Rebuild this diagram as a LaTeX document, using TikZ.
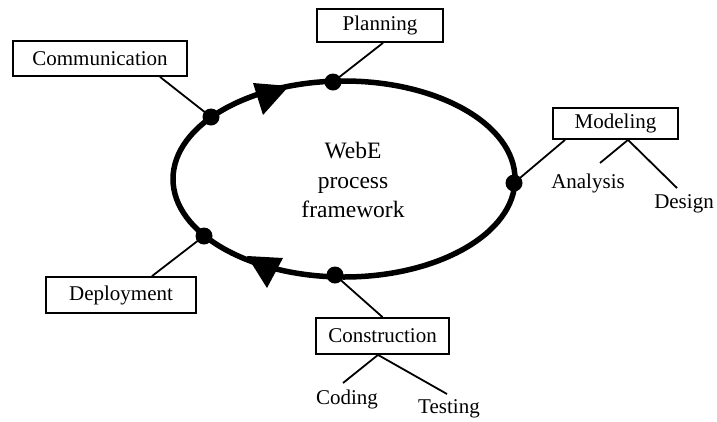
\documentclass[tikz,border=0pt]{standalone}
\usepackage{fontspec}
\setmainfont{Liberation Serif}
\begin{document}
\begin{tikzpicture}[x=1pt,y=-1pt,
  box/.style={draw,line width=1.8pt,inner sep=0pt,font=\fontsize{21}{24}\selectfont},
  lbl/.style={inner sep=0pt,font=\fontsize{21}{24}\selectfont},
  conn/.style={line width=1.8pt},
  dot/.style={circle,fill=black,inner sep=0pt,minimum size=17pt}]
\useasboundingbox (0,0) rectangle (717,421);
% main cycle
\draw[line width=5.5pt] (344,179) ellipse [x radius=171, y radius=98];
\fill (253,83) -- (289,86) -- (263,115) -- cycle;
\fill (247,256) -- (283,258) -- (267,288) -- cycle;
\node[align=center,inner sep=0pt,font=\fontsize{23.5}{29.5}\selectfont] (center) at (353,180) {WebE\\process\\framework};
% dots
\node[dot] (dcomm) at (211,117) {};
\node[dot] (dplan) at (333,82) {};
\node[dot] (dmod) at (514,183) {};
\node[dot] (dcons) at (335,275) {};
\node[dot] (ddep) at (204,236) {};
% boxes
\node[box,minimum width=126pt,minimum height=33pt] (plan) at (380,25.5) {Planning};
\node[box,minimum width=174pt,minimum height=35pt] (comm) at (100,58.5) {Communication};
\node[box,minimum width=125pt,minimum height=31pt] (mod) at (615.5,123.5) {Modeling};
\node[box,minimum width=150pt,minimum height=36pt] (dep) at (121,295) {Deployment};
\node[box,minimum width=133pt,minimum height=36pt] (cons) at (382.5,336) {Construction};
% sub labels
\node[lbl] (ana) at (588,183) {Analysis};
\node[lbl] (des) at (684,204) {Design};
\node[lbl] (cod) at (347,399) {Coding};
\node[lbl] (tes) at (449,409) {Testing};
\coordinate (eana) at (600,163);
\coordinate (edes) at (677,188);
\coordinate (ecod) at (343,383);
\coordinate (etes) at (447,394);
% connectors
\draw[conn] ([xshift=60pt]comm.south) -- (dcomm.center);
\draw[conn] ([xshift=3pt]plan.south) -- (dplan.center);
\draw[conn] ([xshift=-50.5pt]mod.south) -- (dmod.center);
\draw[conn] ([xshift=31pt]dep.north) -- (ddep.center);
\draw[conn] (cons.north) -- (dcons.center);
\draw[conn] ([xshift=12.5pt]mod.south) -- (eana);
\draw[conn] ([xshift=12.5pt]mod.south) -- (edes);
\draw[conn] ([xshift=-4.5pt]cons.south) -- (ecod);
\draw[conn] ([xshift=-4.5pt]cons.south) -- (etes);
\end{tikzpicture}
\end{document}
